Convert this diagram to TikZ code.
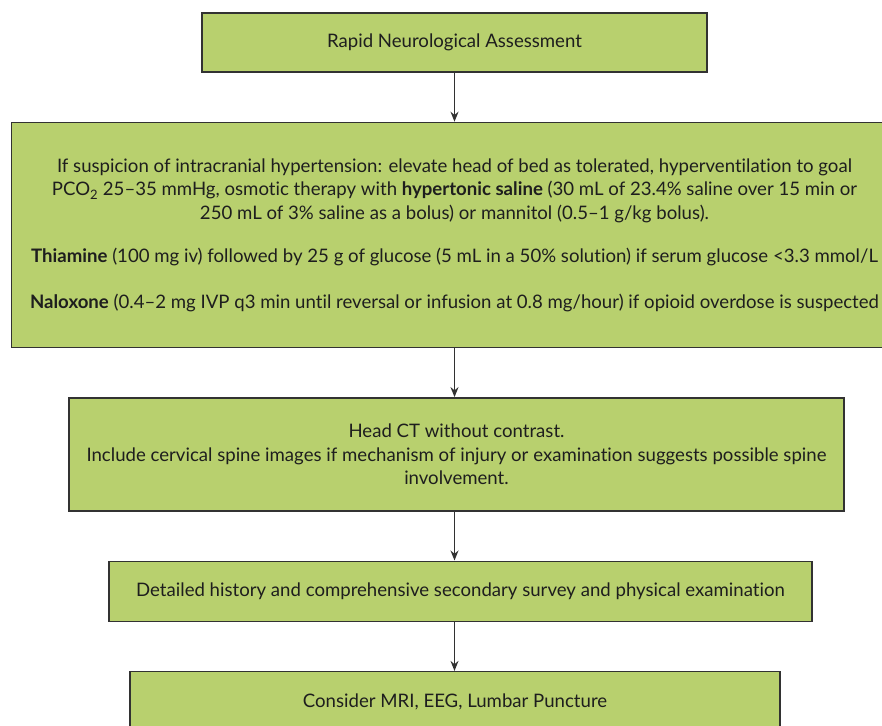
\documentclass[tikz,border=0pt]{standalone}
\usepackage{fontspec}
\setmainfont{Lato}[Ligatures={TeX,NoCommon}]
\usepackage{tikz}
\usetikzlibrary{arrows,arrows.meta,shapes,positioning}
\definecolor{flowgreen}{RGB}{184,208,110}
\definecolor{flowline}{RGB}{50,50,50}
\definecolor{flowtext}{RGB}{30,30,30}
\tikzstyle{process} = [rectangle, text centered, align=center, draw=flowline, fill=flowgreen, line width=1.4pt, text=flowtext, font=\fontsize{18.6}{23.5}\selectfont]
\tikzstyle{arrow} = [line width=1.3pt,->,>={Stealth[length=10pt,width=8pt]},color=flowline]

\begin{document}
\begin{tikzpicture}[x=1pt,y=-1pt,node distance=49pt]
\useasboundingbox (0,0) rectangle (882,725);
\clip (0,0) rectangle (882,725);
% Steps
\node[process, minimum width=505pt, minimum height=59pt] (assess) at (454.5,42.5) {Rapid Neurological Assessment};
\node[process, minimum width=886pt, minimum height=225pt, below=of assess] (icp) {
If suspicion of intracranial hypertension: elevate head of bed as tolerated, hyperventilation to goal\\
PCO\textsubscript{2} 25--35 mmHg, osmotic therapy with \textbf{hypertonic saline} (30 mL of 23.4\% saline over 15 min or\\
250 mL of 3\% saline as a bolus) or mannitol (0.5--1 g/kg bolus).\\[20pt]
\textbf{Thiamine} (100 mg iv) followed by 25 g of glucose (5 mL in a 50\% solution) if serum glucose <3.3 mmol/L\\[22pt]
\textbf{Naloxone} (0.4--2 mg IVP q3 min until reversal or infusion at 0.8 mg/hour) if opioid overdose is suspected
};
\node[process, minimum width=775pt, minimum height=113pt, below=of icp, xshift=2pt] (ct) {
Head CT without contrast.\\
Include cervical spine images if mechanism of injury or examination suggests possible spine\\
involvement.
};
\node[process, minimum width=703pt, minimum height=60pt, below=of ct, xshift=4pt] (survey) {Detailed history and comprehensive secondary survey and physical examination};
\node[process, minimum width=650pt, minimum height=60pt, below=of survey, xshift=-5.5pt] (mri) {Consider MRI, EEG, Lumbar Puncture};

\draw[arrow] (assess.south) -- (assess.south |- icp.north);
\draw[arrow] (assess.south |- icp.south) -- (assess.south |- ct.north);
\draw[arrow] (assess.south |- ct.south) -- (assess.south |- survey.north);
\draw[arrow] (assess.south |- survey.south) -- (assess.south |- mri.north);
\end{tikzpicture}
\end{document}
